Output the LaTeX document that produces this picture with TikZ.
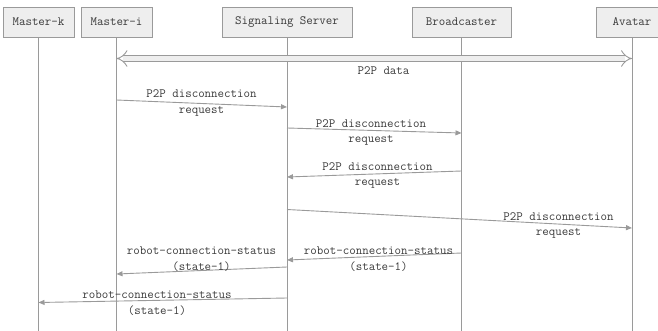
\documentclass[tikz,border=0pt]{standalone}
\usetikzlibrary{arrows.meta}

\definecolor{boxfill}{HTML}{EEEEEE}
\definecolor{linegray}{HTML}{9A9A9A}
\definecolor{textgray}{HTML}{3A3A3A}

\tikzset{
  actor/.style={draw=linegray, fill=boxfill, minimum height=30pt, inner sep=0pt,
    font=\ttfamily\fontsize{12.6}{15.5}\selectfont, text=textgray},
  life/.style={draw=linegray, line width=0.9pt},
  msg/.style={draw=linegray, line width=0.9pt, -{Triangle[length=6pt,width=5pt]}},
  lbl/.style={align=center, inner sep=0pt, text=textgray,
    font=\ttfamily\fontsize{12.6}{15.5}\selectfont},
}

\begin{document}
\begin{tikzpicture}[x=1pt,y=-1pt]
  \clip (0,0) rectangle (658,331);

  % participants
  \node[actor, minimum width=71pt] (mk) at (38.5,22) {Master-k};
  \node[actor, minimum width=71pt] (mi) at (116.5,22) {Master-i};
  \node[actor, minimum width=130pt] (ss) at (287,22) {Signaling Server};
  \node[actor, minimum width=99pt] (bc) at (461.5,22) {Broadcaster};
  \node[actor, minimum width=72pt] (av) at (632,22) {Avatar};

  % lifelines
  \foreach \p in {mk,mi,ss,bc,av}
    \draw[life] (\p.south) -- (\p.south |- 0,331);

  % data channel
  \draw[draw=linegray, line width=0.9pt, double=boxfill, double distance=5pt,
    {Implies}-{Implies}] (mi |- 0,58.5) -- (av |- 0,58.5);
  \node[lbl] (data) at (383.5,71) {P2P data};

  % disconnection
  \draw[msg] (mi |- 0,100) -- (ss |- 0,107);
  \node[lbl] (m1) at (201.5,103) {P2P disconnection\\request};
  \draw[msg] (ss |- 0,128) -- (bc |- 0,133);
  \node[lbl] (m2) at (371,132.5) {P2P disconnection\\request};
  \draw[msg] (bc |- 0,171) -- (ss |- 0,177);
  \node[lbl] (m3) at (377.5,175.5) {P2P disconnection\\request};
  \draw[msg] (ss |- 0,209.5) -- (av |- 0,228);
  \node[lbl] (m4) at (558.5,225.5) {P2P disconnection\\request};

  % status
  \draw[msg] (bc |- 0,253) -- (ss |- 0,260);
  \node[lbl] (s1) at (378.5,259) {robot-connection-status\\(state-1)};
  \draw[msg] (ss |- 0,267) -- (mi |- 0,274);
  \node[lbl] (s2) at (201.5,259) {robot-connection-status\\(state-1)};
  \draw[msg] (ss |- 0,298) -- (mk |- 0,302.5);
  \node[lbl] (s3) at (157,303) {robot-connection-status\\(state-1)};
\end{tikzpicture}
\end{document}
